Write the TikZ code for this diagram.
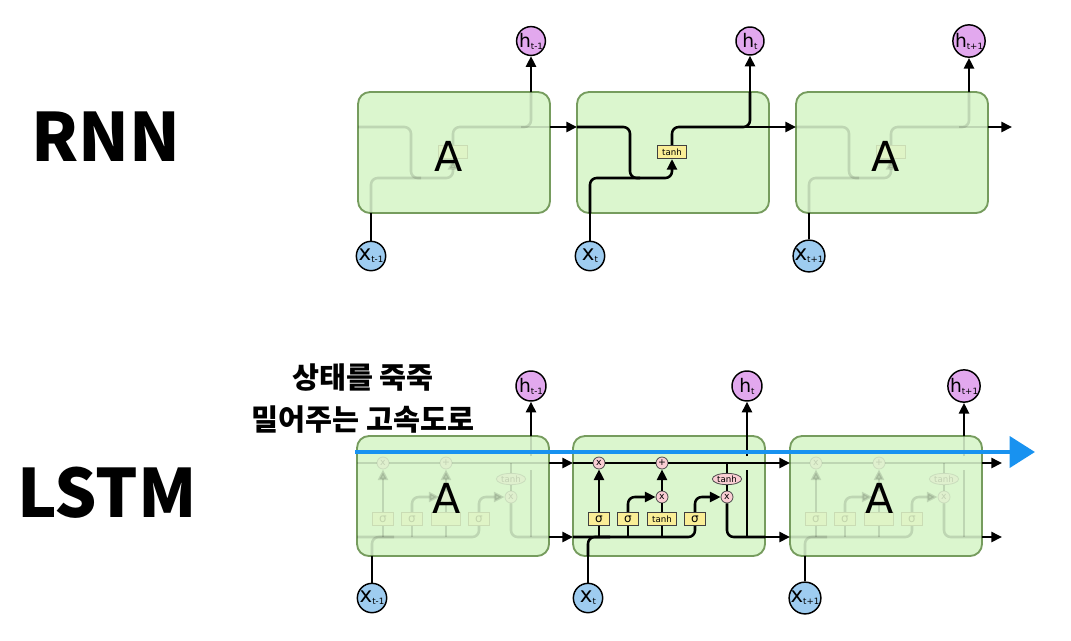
\documentclass[tikz,border=0pt]{standalone}
\usepackage{fontspec}
\setmainfont{DejaVu Sans}
\newfontfamily\krfont{Noto Sans CJK KR}
\usetikzlibrary{arrows.meta,shapes.geometric}

\definecolor{cellfill}{RGB}{219,246,206}
\definecolor{celledge}{RGB}{118,156,94}
\definecolor{hfill}{RGB}{226,168,238}
\definecolor{xfill}{RGB}{158,204,240}
\definecolor{gatefill}{RGB}{250,238,150}
\definecolor{opfill}{RGB}{250,206,212}
\definecolor{highway}{RGB}{24,146,240}

\tikzset{
  cell/.style={draw=celledge,fill=cellfill,line width=1.4pt,rounded corners=9pt},
  wire/.style={line width=1.9pt,rounded corners=5pt},
  tip/.style={-{Triangle[length=8pt,width=7.5pt]}},
  hnode/.style={circle,draw,line width=1.1pt,fill=hfill,minimum size=21pt,inner sep=0pt,font=\fontsize{14}{14}\selectfont},
  xnode/.style={circle,draw,line width=1.1pt,fill=xfill,minimum size=22pt,inner sep=0pt,font=\fontsize{16}{16}\selectfont},
  gate/.style={draw=black!75,fill=gatefill,line width=0.6pt,minimum width=16pt,minimum height=10pt,inner sep=0pt,font=\fontsize{9}{9}\selectfont},
  tanhbox/.style={gate,minimum width=22pt,font=\fontsize{6.5}{6.5}\selectfont},
  op/.style={circle,draw=black!70,fill=opfill,line width=0.6pt,minimum size=9pt,inner sep=0pt,font=\fontsize{7}{7}\selectfont},
  tanhop/.style={ellipse,draw=black!70,fill=opfill,line width=0.6pt,minimum width=22pt,minimum height=8.5pt,inner sep=0pt,font=\fontsize{6.5}{6.5}\selectfont},
  bigA/.style={font=\fontsize{31}{31}\selectfont},
  title/.style={font=\krfont\bfseries\fontsize{50}{50}\selectfont},
  highwayline/.style={draw=highway,line width=3.6pt,-{Triangle[length=19pt,width=23pt]}},
}
\newcommand{\hlab}[1]{h\raisebox{-1.5pt}{\fontsize{6.5}{6.5}\selectfont#1}}
\newcommand{\xlab}[1]{x\raisebox{-1.5pt}{\fontsize{6.5}{6.5}\selectfont#1}}

\begin{document}
\begin{tikzpicture}[x=0.75pt,y=0.75pt,yscale=-1,xscale=1]
\useasboundingbox (0,0) rectangle (1071,640);

% RNN cells
\foreach \dx/\op/\nm/\sub/\gl in {-219/0.13/ra/t-1/{},0/1/rb/t/tanh,219/0.13/rc/t+1/{}}{
  \begin{scope}[shift={(\dx,0)}]
    \draw[cell] (577,92) rectangle (769,213);
    \coordinate (\nm W) at (577,127);
    \coordinate (\nm E) at (769,127);
    \coordinate (\nm S) at (590,213);
    \coordinate (\nm N) at (750,92);
    \node[xnode] (\nm x) at (590,256) {\xlab{\sub}};
    \node[hnode] (\nm h) at (750,41) {\hlab{\sub}};
    \begin{scope}[opacity=\op]
      \node[tanhbox] (\nm tanh) at (672,152) {\gl};
      \draw[wire,tip] (\nm W) -| (630,178) -| (\nm tanh.south);
      \draw[wire] (\nm S) |- (640,178);
      \draw[wire] (\nm tanh.north) |- (750,127) -- (\nm N);
      \draw[wire] (740,127) -- (\nm E);
    \end{scope}
    \draw[wire] (\nm x) -- (\nm S);
    \draw[wire,tip] (\nm N) -- (\nm h);
  \end{scope}
}
\coordinate (rout) at (1012,127);
\draw[wire,tip] (raE) -- (rbW);
\draw[wire,tip] (rbE) -- (rcW);
\draw[wire,tip] (rcE) -- (rout);

% LSTM cells
\foreach \dx/\op/\nm/\sub/\gl/\ml in {-216/0.13/la/t-1/{}/{},0/1/lb/t/tanh/x,217/0.13/lc/t+1/{}/{}}{
  \begin{scope}[shift={(\dx,0)}]
    \draw[cell] (573,436) rectangle (765,556);
    \coordinate (\nm W1) at (573,463);
    \coordinate (\nm E1) at (765,463);
    \coordinate (\nm W2) at (573,537);
    \coordinate (\nm E2) at (765,537);
    \coordinate (\nm S) at (588,556);
    \coordinate (\nm N) at (747,436);
    \node[xnode] (\nm x) at (588,598) {\xlab{\sub}};
    \node[hnode,minimum size=22.5pt] (\nm h) at (747,386) {\hlab{\sub}};
    \begin{scope}[opacity=\op]
      \node[op] (\nm mf) at (599,463) {x};
      \node[op] (\nm pl) at (662,463) {+};
      \node[op] (\nm mi) at (662,497) {\ml};
      \node[op] (\nm mo) at (727,497) {x};
      \node[tanhop] (\nm tc) at (727,479) {tanh};
      \node[gate] (\nm sf) at (599,519) {σ};
      \node[gate] (\nm si) at (628,519) {σ};
      \node[tanhbox] (\nm tg) at (662,519) {\gl};
      \node[gate] (\nm so) at (695,519) {σ};
      \draw[wire] (\nm W1) -- (\nm mf) -- (\nm pl) -- (\nm E1);
      \draw[wire] (727,463) -- (\nm tc);
      \draw[wire] (\nm tc) -- (\nm mo);
      \draw[wire] (\nm W2) -| (\nm so);
      \draw[wire] (\nm S) |- (610,537);
      \draw[wire] (\nm sf |- \nm W2) -- (\nm sf);
      \draw[wire] (\nm si |- \nm W2) -- (\nm si);
      \draw[wire] (\nm tg |- \nm W2) -- (\nm tg);
      \draw[wire,tip] (\nm sf) -- (\nm mf);
      \draw[wire,tip] (\nm si) |- (\nm mi);
      \draw[wire] (\nm tg) -- (\nm mi);
      \draw[wire,tip] (\nm mi) -- (\nm pl);
      \draw[wire,tip] (\nm so) |- (\nm mo);
      \draw[wire] (\nm mo) |- (\nm E2);
      \draw[wire] (\nm N |- \nm E2) -- (747,470);
      \draw[wire] (747,456) -- (\nm N);
    \end{scope}
    \draw[wire] (\nm x) -- (\nm S);
    \draw[wire,tip] (\nm N) -- (\nm h);
  \end{scope}
}
\coordinate (lout1) at (1002,463);
\coordinate (lout2) at (1002,537);
\draw[wire,tip] (laE1) -- (lbW1);
\draw[wire,tip] (lbE1) -- (lcW1);
\draw[wire,tip] (lcE1) -- (lout1);
\draw[wire,tip] (laE2) -- (lbW2);
\draw[wire,tip] (lbE2) -- (lcW2);
\draw[wire,tip] (lcE2) -- (lout2);

% Text Node
\node[bigA] (ra) at (449,156) {A};
\node[bigA] (rc) at (886,156) {A};
\node[bigA] (la) at (447,498) {A};
\node[bigA] (lc) at (880,498) {A};
\node[title] (rnn) at (106,137) {RNN};
\node[title] (lstm) at (107,493) {LSTM};
\node[font=\krfont\bfseries\fontsize{22}{31.5}\selectfont,align=center] (hwtext) at (363,399) {상태를 죽죽\\밀어주는 고속도로};

% highway
\coordinate (hwstart) at (355,452);
\coordinate (hwend) at (1035,452);
\draw[highwayline] (hwstart) -- (hwend);

\end{tikzpicture}
\end{document}
